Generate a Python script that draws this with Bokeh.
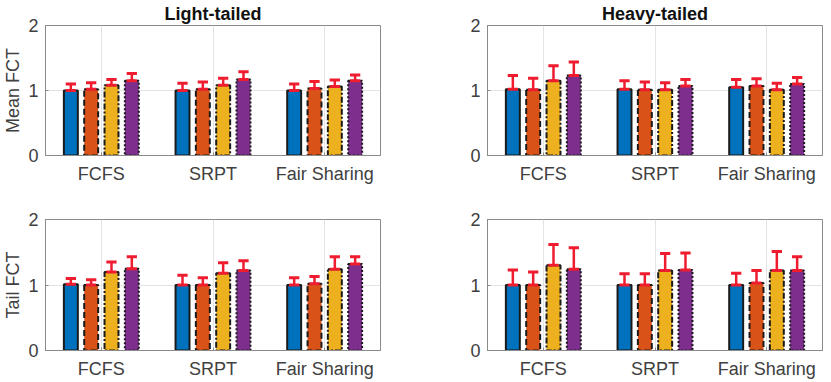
from bokeh.plotting import figure
from bokeh.models import FactorRange, Range1d, ColumnDataSource, FixedTicker
from bokeh.transform import dodge
from bokeh.layouts import column, row
from bokeh.embed import file_html
from bokeh.resources import INLINE

categories = ["FCFS", "SRPT", "Fair Sharing"]
y_ticks = [0, 1, 2]

# series-major: each inner list runs over categories (FCFS, SRPT, Fair Sharing)
light_mean_values = [[1.00, 1.00, 1.00], [1.02, 1.02, 1.03], [1.08, 1.08, 1.06], [1.15, 1.17, 1.15]]
light_mean_errors = [[0.10, 0.11, 0.10], [0.10, 0.11, 0.11], [0.09, 0.11, 0.10], [0.11, 0.12, 0.09]]

heavy_mean_values = [[1.02, 1.02, 1.05], [1.01, 1.01, 1.07], [1.15, 1.01, 1.01], [1.23, 1.07, 1.10]]
heavy_mean_errors = [[0.21, 0.13, 0.12], [0.18, 0.12, 0.11], [0.23, 0.11, 0.10], [0.21, 0.10, 0.10]]

light_tail_values = [[1.01, 1.00, 1.00], [1.00, 1.00, 1.02], [1.20, 1.18, 1.24], [1.25, 1.22, 1.32]]
light_tail_errors = [[0.09, 0.15, 0.11], [0.08, 0.11, 0.11], [0.15, 0.16, 0.19], [0.18, 0.15, 0.11]]

heavy_tail_values = [[1.00, 1.00, 1.00], [1.00, 1.00, 1.03], [1.30, 1.22, 1.22], [1.24, 1.23, 1.22]]
heavy_tail_errors = [[0.23, 0.17, 0.18], [0.20, 0.17, 0.19], [0.32, 0.26, 0.29], [0.33, 0.26, 0.21]]

colors = ["#0072BD", "#D95319", "#EDB120", "#7E2F8E"]
dashes = ["solid", "6 3", "6 2 2 2", "2 2"]
offsets = [-0.273, -0.091, 0.091, 0.273]
ERR_COLOR = "#EE1C2E"
TEXT_COLOR = "#404040"
FONT = "Liberation Sans"


def make_panel(values, errors, title, ylabel, left_col, top_row):
    p = figure(
        x_range=FactorRange(*categories, range_padding=0),
        y_range=Range1d(0, 2),
        output_backend="svg",
        toolbar_location=None,
        frame_width=335,
        frame_height=130 if top_row else 131,
        min_border_left=37 if left_col else 74,
        min_border_right=33 if left_col else 1,
        min_border_top=22 if top_row else 29,
        min_border_bottom=35 if top_row else 26,
        title=title if title else None,
    )
    p.background_fill_color = "white"
    p.border_fill_color = "white"
    p.outline_line_color = "#8a8a8a"
    p.outline_line_width = 1

    if title:
        p.title.text_font = FONT
        p.title.text_font_size = "18px"
        p.title.text_font_style = "bold"
        p.title.text_color = "#111111"
        p.title.align = "center"
        p.title.standoff = 3

    xa = p.xaxis[0]
    xa.major_label_text_font = FONT
    xa.major_label_text_font_size = "18px"
    xa.major_label_text_color = TEXT_COLOR
    xa.major_tick_in = 3
    xa.major_tick_out = 0
    xa.major_tick_line_color = "#8a8a8a"
    xa.axis_line_color = "#8a8a8a"
    xa.major_label_standoff = 8

    ya = p.yaxis[0]
    ya.ticker = FixedTicker(ticks=y_ticks)
    ya.major_label_text_font = FONT
    ya.major_label_text_font_size = "18px"
    ya.major_label_text_color = TEXT_COLOR
    ya.major_tick_in = 3
    ya.major_tick_out = 0
    ya.minor_tick_line_color = None
    ya.major_tick_line_color = "#8a8a8a"
    ya.axis_line_color = "#8a8a8a"
    ya.major_label_standoff = 7
    if ylabel:
        ya.axis_label = ylabel
        ya.axis_label_text_font = FONT
        ya.axis_label_text_font_size = "18px"
        ya.axis_label_text_font_style = "normal"
        ya.axis_label_text_color = TEXT_COLOR
        ya.axis_label_standoff = 2

    p.xgrid.grid_line_color = "#e3e3e3"
    p.ygrid.grid_line_color = "#e3e3e3"
    p.ygrid.ticker = FixedTicker(ticks=y_ticks)

    for i in range(4):
        upper = [v + e for v, e in zip(values[i], errors[i])]
        src = ColumnDataSource(dict(x=categories, top=values[i], upper=upper))
        p.vbar(x=dodge("x", offsets[i], range=p.x_range), top="top", bottom=0, width=0.125,
               fill_color=colors[i], line_color="#1a1a1a", line_width=2,
               line_dash=dashes[i], source=src)
        p.segment(x0=dodge("x", offsets[i], range=p.x_range), y0="top",
                  x1=dodge("x", offsets[i], range=p.x_range), y1="upper",
                  line_color=ERR_COLOR, line_width=2.5, source=src)
        for ycol in ("top", "upper"):
            p.segment(x0=dodge("x", offsets[i] - 0.046, range=p.x_range), y0=ycol,
                      x1=dodge("x", offsets[i] + 0.046, range=p.x_range), y1=ycol,
                      line_color=ERR_COLOR, line_width=3, source=src)
    return p


p1 = make_panel(light_mean_values, light_mean_errors, "Light-tailed", "Mean FCT", True, True)
p2 = make_panel(heavy_mean_values, heavy_mean_errors, "Heavy-tailed", None, False, True)
p3 = make_panel(light_tail_values, light_tail_errors, None, "Tail FCT", True, False)
p4 = make_panel(heavy_tail_values, heavy_tail_errors, None, None, False, False)

layout = column(row(p1, p2), row(p3, p4))
open("out.html", "w").write(file_html(layout, INLINE))
